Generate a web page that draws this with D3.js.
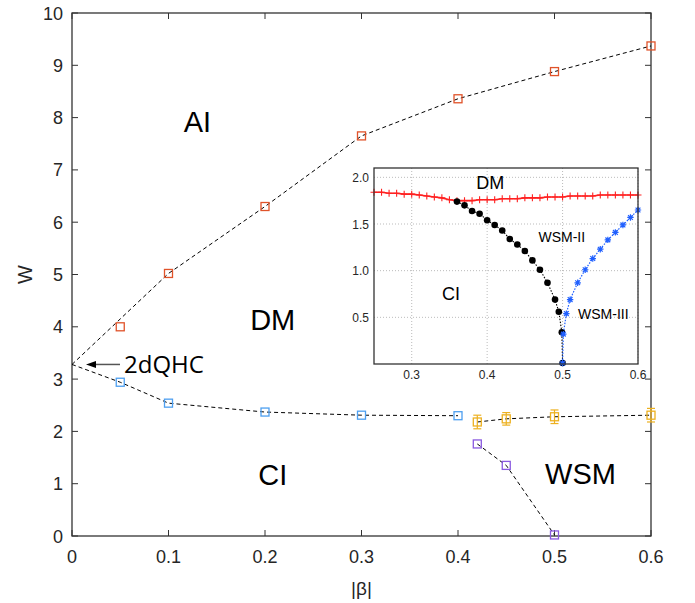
<!DOCTYPE html>
<html><head><meta charset="utf-8">
<script src="https://cdn.jsdelivr.net/npm/d3@7"></script>
<style>body{margin:0;background:#fff}svg{display:block}</style>
</head><body>
<script>
// ---- main plot data ----
const aiX = [0.05, 0.1, 0.2, 0.3, 0.4, 0.5, 0.6];
const aiY = [4.0, 5.02, 6.3, 7.65, 8.36, 8.88, 9.37];
const aiLineX = [0, 0.1, 0.2, 0.3, 0.4, 0.5, 0.6];
const aiLineY = [3.28, 5.02, 6.3, 7.65, 8.36, 8.88, 9.37];
const ciX = [0, 0.05, 0.1, 0.2, 0.3, 0.4];
const ciY = [3.28, 2.94, 2.54, 2.37, 2.31, 2.3];
const wsmTopX = [0.42, 0.45, 0.5, 0.6];
const wsmTopY = [2.18, 2.24, 2.28, 2.31];
const wsmTopErr = [0.13, 0.12, 0.13, 0.13];
const wsmLowX = [0.42, 0.45, 0.5];
const wsmLowY = [1.76, 1.35, 0.02];
const xTicks = [0, 0.1, 0.2, 0.3, 0.4, 0.5, 0.6];
const yTicks = [0, 1, 2, 3, 4, 5, 6, 7, 8, 9, 10];
const regionLabels = ["AI", "DM", "CI", "WSM"];
const regionX = [0.13, 0.208, 0.208, 0.527];
const regionY = [7.72, 3.94, 0.97, 1.0];

// ---- inset data ----
const redX = [0.25,0.26,0.27,0.28,0.29,0.30,0.31,0.32,0.33,0.34,0.35,0.36,0.37,0.38,0.39,0.40,0.41,0.42,0.43,0.44,0.45,0.46,0.47,0.48,0.49,0.50,0.51,0.52,0.53,0.54,0.55,0.56,0.57,0.58,0.59,0.60];
const redY = [1.84,1.84,1.83,1.83,1.82,1.82,1.81,1.80,1.79,1.78,1.76,1.75,1.75,1.75,1.76,1.76,1.76,1.77,1.77,1.77,1.78,1.78,1.78,1.79,1.79,1.79,1.80,1.80,1.80,1.80,1.81,1.81,1.81,1.81,1.81,1.81];
const blackX = [0.36,0.37,0.38,0.39,0.40,0.41,0.42,0.43,0.44,0.45,0.46,0.47,0.48,0.49,0.495,0.499,0.5];
const blackY = [1.74,1.70,1.64,1.61,1.54,1.49,1.43,1.34,1.28,1.21,1.11,1.01,0.87,0.69,0.56,0.34,0.01];
const blueX = [0.5,0.501,0.505,0.51,0.52,0.53,0.54,0.55,0.56,0.57,0.58,0.59,0.60];
const blueY = [0.01,0.32,0.54,0.69,0.87,1.01,1.13,1.23,1.33,1.41,1.49,1.57,1.65];
const inXTicks = [0.3, 0.4, 0.5, 0.6];
const inYTicks = [0.5, 1.0, 1.5, 2.0];
const inLabels = ["DM", "WSM-II", "CI", "WSM-III"];
const inLabelX = [0.404, 0.499, 0.352, 0.554];
const inLabelY = [1.87, 1.31, 0.69, 0.48];

const W = 695, H = 603;
const svg = d3.select("body").append("svg").attr("width", W).attr("height", H);
const FONT = "'Liberation Sans', Arial, sans-serif";
const axisCol = "#333";

// main scales
const x = d3.scaleLinear().domain([0, 0.6]).range([72, 651]);
const y = d3.scaleLinear().domain([0, 10]).range([536, 13]);

const g = svg.append("g");
const tl = 6;
xTicks.forEach(t => {
  g.append("line").attr("x1", x(t)).attr("x2", x(t)).attr("y1", y(0)).attr("y2", y(0) - tl).attr("stroke", axisCol);
  g.append("line").attr("x1", x(t)).attr("x2", x(t)).attr("y1", y(10)).attr("y2", y(10) + tl).attr("stroke", axisCol);
  g.append("text").attr("x", x(t)).attr("y", 563).attr("text-anchor", "middle")
    .attr("font-family", FONT).attr("font-size", 18).attr("fill", "#262626").text(d3.format("")(t));
});
yTicks.forEach(t => {
  g.append("line").attr("x1", x(0)).attr("x2", x(0) + tl).attr("y1", y(t)).attr("y2", y(t)).attr("stroke", axisCol);
  g.append("line").attr("x1", x(0.6)).attr("x2", x(0.6) - tl).attr("y1", y(t)).attr("y2", y(t)).attr("stroke", axisCol);
  g.append("text").attr("x", 63).attr("y", y(t) + 6.5).attr("text-anchor", "end")
    .attr("font-family", FONT).attr("font-size", 18).attr("fill", "#262626").text(t);
});
g.append("rect").attr("x", x(0)).attr("y", y(10)).attr("width", x(0.6) - x(0)).attr("height", y(0) - y(10))
  .attr("fill", "none").attr("stroke", axisCol).attr("stroke-width", 1.3);
g.append("text").attr("x", x(0.3)).attr("y", 595).attr("text-anchor", "middle")
  .attr("font-family", FONT).attr("font-size", 19).attr("fill", "#262626").text("|β|");
g.append("text").attr("transform", `translate(32,${y(5)}) rotate(-90)`).attr("text-anchor", "middle")
  .attr("font-family", FONT).attr("font-size", 20).attr("fill", "#262626").text("W");

const line = d3.line().x(d => x(d[0])).y(d => y(d[1]));
function dashed(xs, ys) {
  g.append("path").attr("d", line(xs.map((v, i) => [v, ys[i]]))).attr("fill", "none")
    .attr("stroke", "#000").attr("stroke-width", 1).attr("stroke-dasharray", "4,3");
}
dashed(aiLineX, aiLineY);
dashed(ciX, ciY);
dashed(wsmTopX, wsmTopY);
dashed(wsmLowX, wsmLowY);

function squares(xs, ys, col) {
  xs.forEach((v, i) => {
    g.append("rect").attr("x", x(v) - 4).attr("y", y(ys[i]) - 4).attr("width", 8).attr("height", 8)
      .attr("fill", "none").attr("stroke", col).attr("stroke-width", 1.3);
  });
}
squares(aiX, aiY, "#e0532a");
squares(ciX.slice(1), ciY.slice(1), "#4d9ff0");
wsmTopX.forEach((v, i) => {
  const c = "#edb120", cx = x(v), y1 = y(wsmTopY[i] - wsmTopErr[i]), y2 = y(wsmTopY[i] + wsmTopErr[i]);
  g.append("line").attr("x1", cx).attr("x2", cx).attr("y1", y1).attr("y2", y2).attr("stroke", c).attr("stroke-width", 1.2);
  g.append("line").attr("x1", cx - 4).attr("x2", cx + 4).attr("y1", y1).attr("y2", y1).attr("stroke", c).attr("stroke-width", 1.2);
  g.append("line").attr("x1", cx - 4).attr("x2", cx + 4).attr("y1", y2).attr("y2", y2).attr("stroke", c).attr("stroke-width", 1.2);
});
squares(wsmTopX, wsmTopY, "#edb120");
squares(wsmLowX, wsmLowY, "#8a5ae0");

regionLabels.forEach((l, i) => {
  g.append("text").attr("x", x(regionX[i])).attr("y", y(regionY[i])).attr("text-anchor", "middle")
    .attr("font-family", FONT).attr("font-size", 29).attr("fill", "#000").text(l);
});

// 2dQHC arrow
const ay = y(3.28);
g.append("line").attr("x1", 120).attr("x2", 92).attr("y1", ay).attr("y2", ay).attr("stroke", "#555").attr("stroke-width", 1.5);
g.append("path").attr("d", `M86,${ay} L96,${ay - 3.5} L96,${ay + 3.5} Z`).attr("fill", "#000");
g.append("text").attr("x", 124).attr("y", ay + 9).attr("font-family", "'Open Sans', sans-serif")
  .attr("font-size", 24).attr("fill", "#000").text("2dQHC");

// ---- inset ----
const ix = d3.scaleLinear().domain([0.25, 0.6]).range([374, 638]);
const iy = d3.scaleLinear().domain([0, 2.1]).range([364, 168]);
const ig = svg.append("g");
ig.append("rect").attr("x", ix(0.25)).attr("y", iy(2.1)).attr("width", ix(0.6) - ix(0.25)).attr("height", iy(0) - iy(2.1))
  .attr("fill", "#fff");
inXTicks.forEach(t => {
  ig.append("line").attr("x1", ix(t)).attr("x2", ix(t)).attr("y1", iy(0)).attr("y2", iy(2.1))
    .attr("stroke", "#aaa").attr("stroke-width", 0.8).attr("stroke-dasharray", "1,2");
  ig.append("text").attr("x", ix(t)).attr("y", 379).attr("text-anchor", "middle")
    .attr("font-family", FONT).attr("font-size", 12).attr("fill", "#262626").text(d3.format(".1f")(t));
});
inYTicks.forEach(t => {
  ig.append("line").attr("x1", ix(0.25)).attr("x2", ix(0.6)).attr("y1", iy(t)).attr("y2", iy(t))
    .attr("stroke", "#aaa").attr("stroke-width", 0.8).attr("stroke-dasharray", "1,2");
  ig.append("text").attr("x", 369).attr("y", iy(t) + 4.5).attr("text-anchor", "end")
    .attr("font-family", FONT).attr("font-size", 12).attr("fill", "#262626").text(d3.format(".1f")(t));
});
const iline = d3.line().x(d => ix(d[0])).y(d => iy(d[1]));
ig.append("path").attr("d", iline(redX.map((v, i) => [v, redY[i]]))).attr("fill", "none")
  .attr("stroke", "#ff2020").attr("stroke-width", 1.6);
redX.forEach((v, i) => {
  const cx = ix(v), cy = iy(redY[i]);
  ig.append("path").attr("d", `M${cx - 3.5},${cy}H${cx + 3.5}M${cx},${cy - 3.5}V${cy + 3.5}`)
    .attr("stroke", "#ff2020").attr("stroke-width", 1.1);
});
ig.append("path").attr("d", iline(blackX.map((v, i) => [v, blackY[i]]))).attr("fill", "none")
  .attr("stroke", "#000").attr("stroke-width", 1.1).attr("stroke-dasharray", "1.5,1.5");
blackX.forEach((v, i) => {
  ig.append("circle").attr("cx", ix(v)).attr("cy", iy(blackY[i])).attr("r", 3.3).attr("fill", "#000");
});
ig.append("path").attr("d", iline(blueX.map((v, i) => [v, blueY[i]]))).attr("fill", "none")
  .attr("stroke", "#2060ff").attr("stroke-width", 1.2).attr("stroke-dasharray", "1.5,1.5");
blueX.forEach((v, i) => {
  const cx = ix(v), cy = iy(blueY[i]), r = 3.2;
  ig.append("path").attr("d", `M${cx - r},${cy}H${cx + r}M${cx},${cy - r}V${cy + r}M${cx - r * 0.75},${cy - r * 0.75}L${cx + r * 0.75},${cy + r * 0.75}M${cx - r * 0.75},${cy + r * 0.75}L${cx + r * 0.75},${cy - r * 0.75}`)
    .attr("stroke", "#2060ff").attr("stroke-width", 1.2);
});
ig.append("rect").attr("x", ix(0.25)).attr("y", iy(2.1)).attr("width", ix(0.6) - ix(0.25)).attr("height", iy(0) - iy(2.1))
  .attr("fill", "none").attr("stroke", "#333").attr("stroke-width", 1.3);
const inSizes = [18, 14, 18, 14];
inLabels.forEach((l, i) => {
  ig.append("text").attr("x", ix(inLabelX[i])).attr("y", iy(inLabelY[i])).attr("text-anchor", "middle")
    .attr("font-family", FONT).attr("font-size", inSizes[i]).attr("fill", "#000").text(l);
});
</script>
</body></html>
